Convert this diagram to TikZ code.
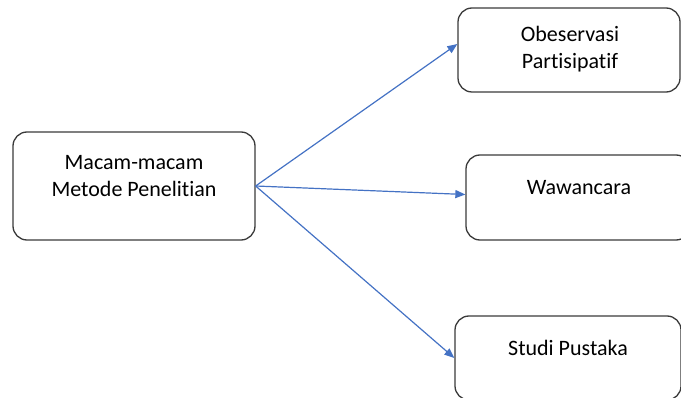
\documentclass[tikz,border=0pt]{standalone}
\usepackage{fontspec}
\setmainfont{Carlito}[Ligatures=NoCommon]
\usepackage{xcolor}
\usepackage{tikz}
\usetikzlibrary{arrows.meta}
\usetikzlibrary{positioning}

\definecolor{arrowblue}{HTML}{4472C4}
\definecolor{boxline}{HTML}{3A3A3A}

\begin{document}
\begin{tikzpicture}[
    x=1pt, y=-1pt,
    box/.style={rectangle, draw=boxline, line width=1.3pt, rounded corners=14pt, inner sep=0pt},
    txt/.style={align=center, inner sep=0pt, font=\fontsize{22}{27}\selectfont},
    link/.style={draw=arrowblue, line width=1.2pt, -{Triangle[length=10pt, width=8pt]}}
  ]

  \useasboundingbox (0,0) rectangle (681,398);
  \clip (0,0) rectangle (681,398);

  % Boxes
  \node[box, minimum width=242pt, minimum height=108pt] (metode) at (134, 186)   {};
  \node[box, minimum width=222pt, minimum height=84pt]  (obs)    at (569, 50)    {};
  \node[box, minimum width=224pt, minimum height=85pt]  (waw)    at (578, 197.5) {};
  \node[box, minimum width=226pt, minimum height=84pt]  (studi)  at (568, 358)   {};

  % Texts
  \node[txt] (metode-txt) at (134, 176) {Macam-macam\\Metode Penelitian};
  \node[txt] (obs-txt)    at (570, 49)  {Obeservasi\\Partisipatif};
  \node[txt] (waw-txt)    at (579, 188) {Wawancara};
  \node[txt] (studi-txt)  at (568, 348) {Studi Pustaka};

  % Arrows
  \draw[link] (metode.east) -- ([yshift=6pt]obs.west);
  \draw[link] (metode.east) -- ([yshift=3pt]waw.west);
  \draw[link] (metode.east) -- (studi.west);

\end{tikzpicture}
\end{document}
